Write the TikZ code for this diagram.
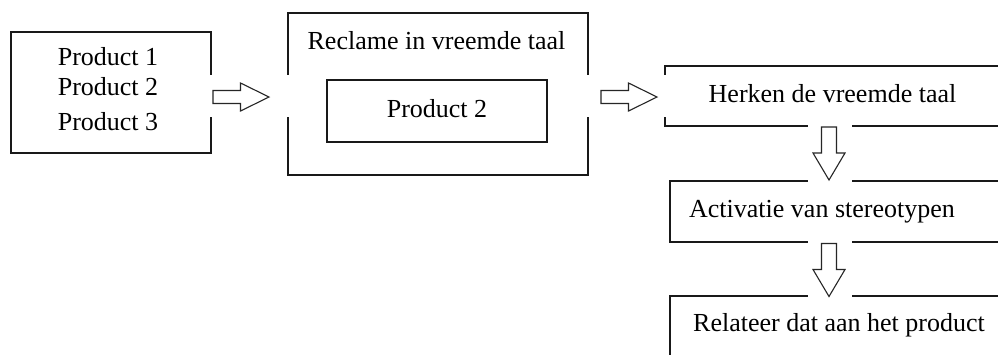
\documentclass[tikz,border=0pt]{standalone}
\usepackage{fontspec}
\setmainfont{Liberation Serif}
\begin{document}
\begin{tikzpicture}[x=1pt,y=-1pt,
  box/.style={draw=black!90, line width=1.5pt, rectangle, inner sep=0pt},
  lbl/.style={inner sep=0pt, anchor=base, font=\fontsize{26}{30}\selectfont},
  gap/.style={fill=white},
  blk/.style={draw=black!85, line width=1.1pt, fill=white, line join=miter},
  rblock/.pic={\path[blk] (0,-6.5) -- (27.5,-6.5) -- (27.5,-14) -- (56,0) -- (27.5,14) -- (27.5,6.5) -- (0,6.5) -- cycle;},
  dblock/.pic={\path[blk] (-7.5,0) -- (-7.5,26) -- (-16,26) -- (0,53) -- (16,26) -- (7.5,26) -- (7.5,0) -- cycle;}
]
\useasboundingbox (0,0) rectangle (998,354);
\clip (0,0) rectangle (998,354);
% boxes
\node[box, minimum width=200pt, minimum height=121pt] (b1) at (111,92.5) {};
\node[box, minimum width=300pt, minimum height=162pt] (b2) at (438,94) {};
\node[box, minimum width=220pt, minimum height=62pt] (b2in) at (437,111) {};
\node[box, minimum width=360pt, minimum height=60pt, anchor=north west] (b3) at (664,65) {};
\node[box, minimum width=360pt, minimum height=61pt, anchor=north west] (b4) at (669,180) {};
\node[box, minimum width=360pt, minimum height=100pt, anchor=north west] (b5) at (669,295) {};
% gaps where the arrows pass
\path[gap] (204,75) rectangle (296,117);
\path[gap] (580,75) rectangle (672,117);
\path[gap] (808,118) rectangle (852,187);
\path[gap] (808,234) rectangle (852,302);
% arrows
\coordinate (t1) at (213,97);
\coordinate (t2) at (601,97);
\coordinate (t3) at (829,127);
\coordinate (t4) at (829,243.5);
\pic (a1) at (t1) {rblock};
\pic (a2) at (t2) {rblock};
\pic (a3) at (t3) {dblock};
\pic (a4) at (t4) {dblock};
% texts
\node[lbl] (p1) at (108,65) {Product 1};
\node[lbl] (p2) at (108,95) {Product 2};
\node[lbl] (p3) at (108,130) {Product 3};
\node[lbl] (rv) at (436.5,49) {Reclame in vreemde taal};
\node[lbl] (pi) at (437,117) {Product 2};
\node[lbl] (hv) at (832.5,102) {Herken de vreemde taal};
\node[lbl] (as) at (822,217) {Activatie van stereotypen};
\node[lbl] (rp) at (839,331) {Relateer dat aan het product};
\end{tikzpicture}
\end{document}
